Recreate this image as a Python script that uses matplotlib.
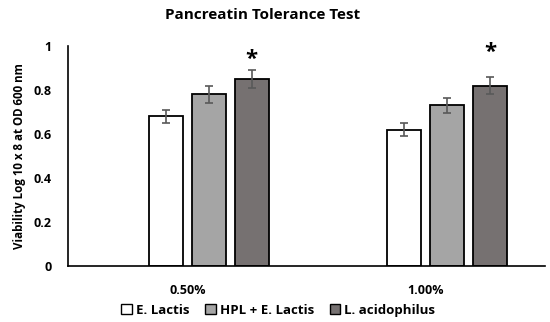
import numpy as np
from matplotlib import pyplot as plt
from matplotlib.patches import Patch

plt.rcParams['font.family'] = ['Open Sans', 'DejaVu Sans']

groups = ['0.50%', '1.00%']
series = ['E. Lactis', 'HPL + E. Lactis', 'L. acidophilus']
values = [[0.68, 0.62], [0.78, 0.73], [0.85, 0.82]]
errors = [[0.03, 0.03], [0.04, 0.035], [0.04, 0.04]]
colors = ['#ffffff', '#a5a5a5', '#767171']
stars = [[0.94, 0.97]]  # asterisk heights over L. acidophilus

fig = plt.figure(figsize=(5.5, 3.22), dpi=100)
ax = fig.add_axes([0.124, 0.174, 0.867, 0.683])

x = np.arange(len(groups))
width = 0.143
# excel layout: empty first slot, so the three bars sit right of the label
offsets = [-0.09, 0.09, 0.27]

for i in range(3):
    ax.bar(x + offsets[i], values[i], width, color=colors[i],
           edgecolor='black', linewidth=1.3, zorder=2)
    ax.errorbar(x + offsets[i], values[i], yerr=errors[i], fmt='none',
                ecolor='#595959', elinewidth=1.2, capsize=3, capthick=1.2, zorder=3)

for j in range(2):
    ax.text(x[j] + offsets[2], stars[0][j], '*', ha='center', va='center',
            fontsize=16, fontweight='bold')

ax.set_xlim(-0.5, 1.5)
ax.set_ylim(0, 1)
ax.set_yticks([0, 0.2, 0.4, 0.6, 0.8, 1])
ax.set_yticklabels(['0', '0.2', '0.4', '0.6', '0.8', '1'])
ax.set_xticks(x)
ax.set_xticklabels(groups)
ax.tick_params(length=0, labelsize=9, pad=12)
for lab in ax.get_xticklabels() + ax.get_yticklabels():
    lab.set_fontweight('bold')
ax.tick_params(axis='x', pad=13)

for s in ['top', 'right']:
    ax.spines[s].set_visible(False)
ax.spines['left'].set_linewidth(1.2)
ax.spines['bottom'].set_linewidth(1.2)

ax.set_ylabel('Viability Log 10 x 8 at OD 600 nm', fontsize=8.3, fontweight='bold', labelpad=5)
fig.suptitle('Pancreatin Tolerance Test', fontsize=11, fontweight='bold', x=0.477, y=0.975)

handles = [Patch(facecolor=c, edgecolor='black', linewidth=1) for c in colors]
fig.legend(handles, series, loc='center', bbox_to_anchor=(0.506, 0.037), ncol=3,
           frameon=False, prop={'weight': 'bold', 'size': 9.5},
           handlelength=0.8, handleheight=0.8, handletextpad=0.3, columnspacing=1.2)

fig.savefig('out.png', dpi=100)
